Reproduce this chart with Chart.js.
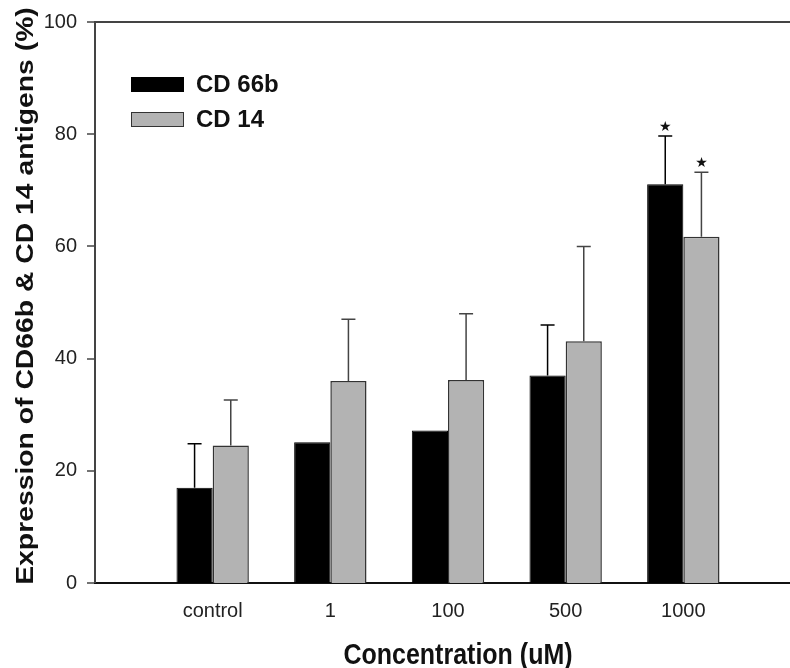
<!DOCTYPE html>
<html>
<head>
<meta charset="utf-8">
<script src="https://cdn.jsdelivr.net/npm/chart.js@4/dist/chart.umd.min.js"></script>
<style>
  html, body { margin: 0; padding: 0; background: #fff; overflow: hidden; }
  #wrap { width: 817px; height: 668px; position: relative; }
</style>
</head>
<body>
<div id="wrap"><canvas id="chart"></canvas></div>
<script>
// --- Data ---
// blank first/last slots keep the empty space either side of the groups
const categories = ['', 'control', '1', '100', '500', '1000', ''];
const cd66b      = [null, 17.0, 25.1, 27.2, 37.0, 71.1, null];
const cd66bErr   = [null, 7.8, null, null, 9.0, 8.6, null];
const cd14       = [null, 24.5, 36.0, 36.2, 43.1, 61.7, null];
const cd14Err    = [null, 8.1, 11.0, 11.8, 16.9, 11.5, null];
const cd66bSig   = [false, false, false, false, false, true, false];
const cd14Sig    = [false, false, false, false, false, true, false];
const yMin = 0, yMax = 100, yStep = 20;

const FONT = "'Liberation Sans', Arial, sans-serif";

// --- Error bars + significance stars ---
const errorBars = {
  id: 'errorBars',
  afterDatasetsDraw(chart) {
    const ctx = chart.ctx;
    const y = chart.scales.y;
    chart.data.datasets.forEach((ds, i) => {
      const meta = chart.getDatasetMeta(i);
      meta.data.forEach((bar, j) => {
        const v = ds.data[j], e = ds.errors[j];
        if (v == null || e == null) return;
        const top = y.getPixelForValue(v + e);
        ctx.save();
        ctx.strokeStyle = ds.errColor;
        ctx.lineWidth = 1.5;
        ctx.beginPath();
        ctx.moveTo(bar.x, bar.y);
        ctx.lineTo(bar.x, top);
        ctx.moveTo(bar.x - 7, top);
        ctx.lineTo(bar.x + 7, top);
        ctx.stroke();
        if (ds.sig[j]) {
          ctx.fillStyle = '#111';
          ctx.font = "14px 'DejaVu Sans'";
          ctx.textAlign = 'center';
          ctx.textBaseline = 'middle';
          ctx.fillText('\u2605', bar.x, top - 9);
        }
        ctx.restore();
      });
    });
  }
};

// --- Legend (inside plot, top-left) and axis titles ---
const decorations = {
  id: 'decorations',
  afterDraw(chart) {
    const ctx = chart.ctx;
    ctx.save();
    // legend
    chart.data.datasets.forEach((ds, i) => {
      const bx = 131, by = 77 + i * 35;
      ctx.fillStyle = ds.backgroundColor;
      ctx.fillRect(bx, by, 53, 15);
      ctx.strokeStyle = ds.borderColor;
      ctx.lineWidth = 1;
      ctx.strokeRect(bx + 0.5, by + 0.5, 52, 14);
      ctx.fillStyle = '#111';
      ctx.font = 'bold 24px ' + FONT;
      ctx.textAlign = 'left';
      ctx.textBaseline = 'middle';
      ctx.fillText(ds.label, 196, by + 8.5);
    });
    // x title
    ctx.save();
    ctx.translate(458, 664);
    ctx.scale(1, 1.17);
    ctx.fillStyle = '#111';
    ctx.font = 'bold 25px ' + FONT;
    ctx.textAlign = 'center';
    ctx.textBaseline = 'alphabetic';
    ctx.fillText('Concentration (uM)', 0, 0);
    ctx.restore();
    // y title
    ctx.save();
    ctx.translate(33, 296);
    ctx.rotate(-Math.PI / 2);
    ctx.scale(1.18, 1);
    ctx.fillStyle = '#111';
    ctx.font = 'bold 24px ' + FONT;
    ctx.textAlign = 'center';
    ctx.textBaseline = 'alphabetic';
    ctx.fillText('Expression of CD66b & CD 14 antigens (%)', 0, 0);
    ctx.restore();
    ctx.restore();
  }
};

new Chart(document.getElementById('chart').getContext('2d'), {
  type: 'bar',
  data: {
    labels: categories,
    datasets: [
      {
        label: 'CD 66b',
        data: cd66b,
        errors: cd66bErr,
        sig: cd66bSig,
        errColor: '#000',
        backgroundColor: '#000000',
        borderColor: '#000000',
        borderWidth: 1
      },
      {
        label: 'CD 14',
        data: cd14,
        errors: cd14Err,
        sig: cd14Sig,
        errColor: '#444',
        backgroundColor: '#b3b3b3',
        borderColor: '#333333',
        borderWidth: 1.5
      }
    ]
  },
  options: {
    responsive: true, maintainAspectRatio: false, animation: false,
    layout: { padding: { top: 21, right: 9.4, left: 0, bottom: 0 } },
    plugins: { legend: { display: false }, tooltip: { enabled: false } },
    datasets: { bar: { categoryPercentage: 0.615, barPercentage: 1.0 } },
    scales: {
      x: {
        offset: false,
        grid: { display: false, drawTicks: false },
        border: { color: '#111', width: 2 },
        ticks: { color: '#222', font: { family: FONT, size: 20 }, padding: 16, maxRotation: 0, autoSkip: false },
        afterFit: s => { s.height = 85; }
      },
      y: {
        min: yMin, max: yMax,
        grid: {
          drawOnChartArea: true,
          color: c => c.tick && c.tick.value === yMax ? '#444' : 'rgba(0,0,0,0)',
          lineWidth: c => c.tick && c.tick.value === yMax ? 2 : 0,
          tickColor: '#444', tickLength: 8, tickWidth: 1.5
        },
        border: { color: '#444', width: 2 },
        ticks: { stepSize: yStep, color: '#222', font: { family: FONT, size: 20 }, padding: 10 },
        afterFit: s => { s.width = 95; }
      }
    }
  },
  plugins: [errorBars, decorations]
});
</script>
</body>
</html>
